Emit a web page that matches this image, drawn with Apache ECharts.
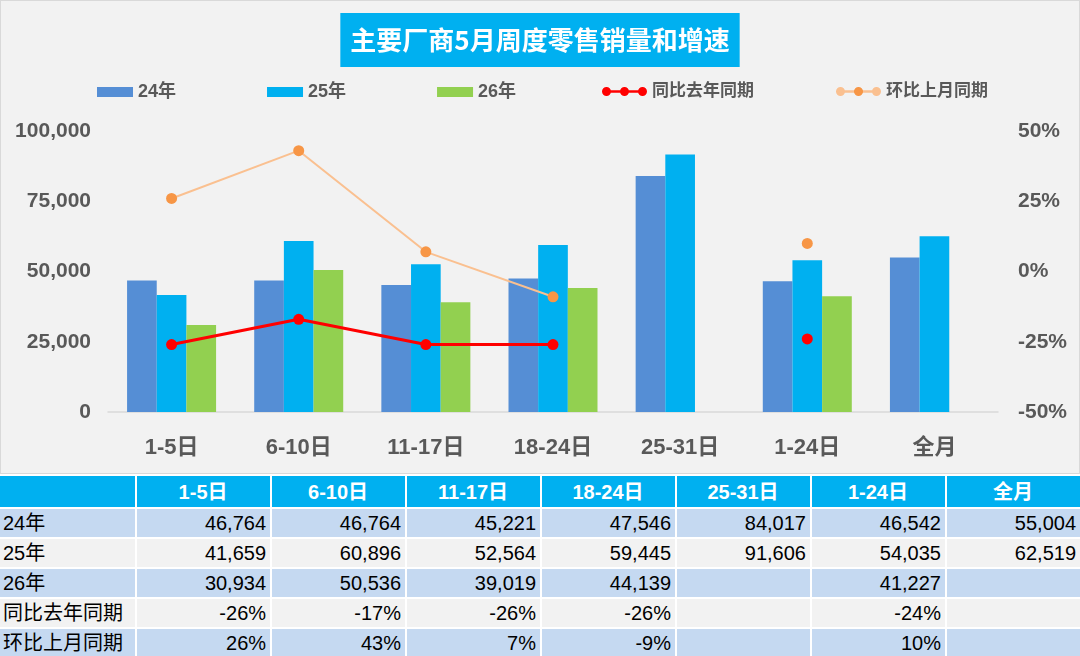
<!DOCTYPE html>
<html>
<head>
<meta charset="utf-8">
<script src="https://cdn.jsdelivr.net/npm/echarts@6/dist/echarts.min.js"></script>
<style>
  html, body { margin: 0; padding: 0; background: #ffffff; }
  #chart { width: 1078px; height: 472px; background: #f2f2f2; border: 1px solid #d9d9d9; }
  #tabla { border-collapse: separate; border-spacing: 2px; margin: 0 0 0 -2px; width: 1084px;
           font-family: 'Liberation Sans', 'Noto Sans CJK SC', sans-serif; font-size: 20px; color: #000; }
  #tabla td, #tabla th { padding: 0 4px 0 3px; height: 28px; line-height: 28px; white-space: nowrap; }
  #tabla th { background: #00b0f0; color: #fff; font-weight: bold; text-align: center; height: 31px; }
  #tabla td { text-align: right; }
  #tabla td.nombre { text-align: left; }
  #tabla tr.azul td { background: #c5d9f1; }
  #tabla tr.gris td { background: #f2f2f2; }
</style>
</head>
<body>
<div id="chart"></div>
<table id="tabla"></table>
<script>
var categorias = ['1-5日', '6-10日', '11-17日', '18-24日', '25-31日', '1-24日', '全月'];
var ventas24 = [46764, 46764, 45221, 47546, 84017, 46542, 55004];
var ventas25 = [41659, 60896, 52564, 59445, 91606, 54035, 62519];
var ventas26 = [30934, 50536, 39019, 44139, null, 41227, null];
var tasaAnual = [-26, -17, -26, -26, null, -24, null];   // 同比去年同期 (%)
var tasaMensual = [26, 43, 7, -9, null, 10, null];       // 环比上月同期 (%)
var ticksIzq = [0, 25000, 50000, 75000, 100000];
var ticksDer = [-50, -25, 0, 25, 50];

var fuenteCJK = "'Liberation Sans', 'Noto Sans CJK SC', sans-serif";
var iconoPuntos = 'path://M0,5A5,5,0,1,1,10,5A5,5,0,1,1,0,5Z M20,5A5,5,0,1,1,30,5A5,5,0,1,1,20,5Z M40,5A5,5,0,1,1,50,5A5,5,0,1,1,40,5Z M5,3.5L45,3.5L45,6.5L5,6.5Z';

function miles(v) {
    return String(v).replace(/\B(?=(\d{3})+(?!\d))/g, ',');
}

var degradadoNaranja = new echarts.graphic.LinearGradient(0, 0, 1, 0, [
    { offset: 0, color: '#fac090' }, { offset: 0.39, color: '#fac090' },
    { offset: 0.4, color: '#f79646' }, { offset: 0.6, color: '#f79646' },
    { offset: 0.61, color: '#fac090' }, { offset: 1, color: '#fac090' }
]);

var grafica = echarts.init(document.getElementById('chart'));

grafica.setOption({
    backgroundColor: '#f2f2f2',
    textStyle: { fontFamily: fuenteCJK },
    title: {
        text: '主要厂商5月周度零售销量和增速',
        left: 'center',
        top: 12,
        backgroundColor: '#00b0f0',
        padding: [14, 10, 14, 10],
        textStyle: { color: '#fff', fontSize: 26, fontWeight: 'bold', fontFamily: "'Noto Sans CJK SC', sans-serif" }
    },
    legend: [{
        left: 91,
        top: 77,
        itemGap: 91,
        itemWidth: 36,
        itemHeight: 10,
        textStyle: { color: '#595959', fontSize: 18, fontWeight: 'bold' },
        data: [
            { name: '24年', icon: 'rect' },
            { name: '25年', icon: 'rect' },
            { name: '26年', icon: 'rect' }
        ]
    }, {
        left: 596,
        top: 77,
        itemGap: 82,
        itemWidth: 45,
        itemHeight: 10,
        textStyle: { color: '#595959', fontSize: 17, fontWeight: 'bold' },
        data: [
            { name: '同比去年同期', icon: iconoPuntos, itemStyle: { color: '#ff0000' } },
            { name: '环比上月同期', icon: iconoPuntos, itemStyle: { color: degradadoNaranja } }
        ]
    }],
    grid: { left: 107, right: 81, top: 130, bottom: 61 },
    xAxis: {
        type: 'category',
        data: categorias,
        axisLine: { lineStyle: { color: '#d9d9d9', width: 1.5 } },
        axisTick: { show: false },
        axisLabel: { color: '#595959', fontSize: 22, fontWeight: 'bold', margin: 25 }
    },
    yAxis: [{
        type: 'value',
        min: ticksIzq[0],
        max: ticksIzq[ticksIzq.length - 1],
        interval: 25000,
        splitLine: { show: false },
        axisLine: { show: false },
        axisTick: { show: false },
        axisLabel: { color: '#595959', fontSize: 21, fontWeight: 'bold', margin: 17, formatter: miles }
    }, {
        type: 'value',
        min: ticksDer[0],
        max: ticksDer[ticksDer.length - 1],
        interval: 25,
        splitLine: { show: false },
        axisLine: { show: false },
        axisTick: { show: false },
        axisLabel: { color: '#595959', fontSize: 21, fontWeight: 'bold', margin: 20, formatter: '{value}%' }
    }],
    series: [{
        name: '24年', type: 'bar', data: ventas24, barGap: '0%', barCategoryGap: '30%',
        itemStyle: { color: '#558ed5' }
    }, {
        name: '25年', type: 'bar', data: ventas25,
        itemStyle: { color: '#00b0f0' }
    }, {
        name: '26年', type: 'bar', data: ventas26,
        itemStyle: { color: '#92d050' }
    }, {
        name: '同比去年同期', type: 'line', yAxisIndex: 1, data: tasaAnual, z: 5,
        symbol: 'circle', symbolSize: 11, showAllSymbol: true,
        lineStyle: { color: '#ff0000', width: 3 },
        itemStyle: { color: '#ff0000' }
    }, {
        name: '环比上月同期', type: 'line', yAxisIndex: 1, data: tasaMensual, z: 5,
        symbol: 'circle', symbolSize: 11, showAllSymbol: true,
        lineStyle: { color: '#fac090', width: 2 },
        itemStyle: { color: '#f79646' }
    }]
});

// tabla de datos debajo de la grafica
var filas = [
    { nombre: '24年', valores: ventas24, fmt: miles },
    { nombre: '25年', valores: ventas25, fmt: miles },
    { nombre: '26年', valores: ventas26, fmt: miles },
    { nombre: '同比去年同期', valores: tasaAnual, fmt: function (v) { return v + '%'; } },
    { nombre: '环比上月同期', valores: tasaMensual, fmt: function (v) { return v + '%'; } }
];
var html = '<colgroup><col style="width:130px">';
categorias.forEach(function () { html += '<col style="width:128px">'; });
html += '</colgroup><tr><th></th>';
categorias.forEach(function (c) { html += '<th>' + c + '</th>'; });
html += '</tr>';
filas.forEach(function (f, i) {
    html += '<tr class="' + (i % 2 === 0 ? 'azul' : 'gris') + '"><td class="nombre">' + f.nombre + '</td>';
    f.valores.forEach(function (v) {
        html += '<td>' + (v === null ? '' : f.fmt(v)) + '</td>';
    });
    html += '</tr>';
});
document.getElementById('tabla').innerHTML = html;
</script>
</body>
</html>
